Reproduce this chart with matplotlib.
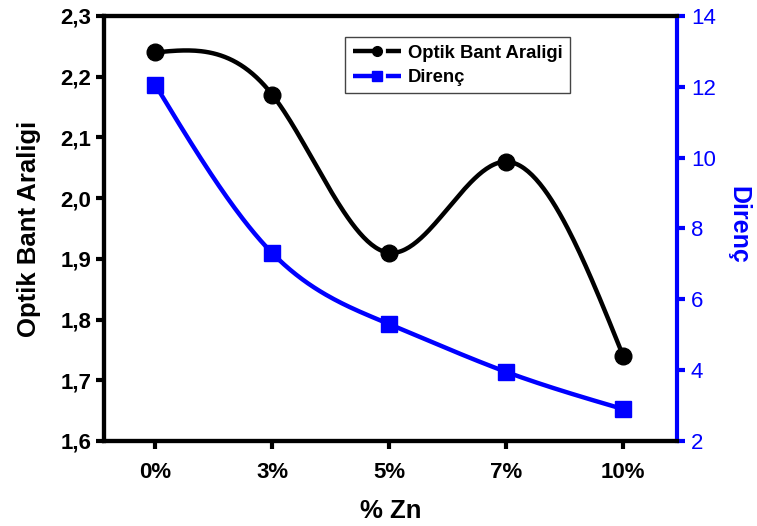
import matplotlib
matplotlib.use("Agg")
import matplotlib.pyplot as plt
import numpy as np

# ---------------- data ----------------
zn_labels = ['0%', '3%', '5%', '7%', '10%']
band_gap = [2.24, 2.17, 1.91, 2.06, 1.74]      # Optik Bant Araligi
direnc = [12.05, 7.30, 5.30, 3.95, 2.90]       # Direnç

plt.rcParams['font.family'] = ['Liberation Sans', 'DejaVu Sans']


def natural_spline(y, n=60):
    # natural cubic spline on x = 0..len-1, only for drawing the smooth line
    y = np.asarray(y, dtype=float)
    k = len(y)
    A = np.zeros((k, k))
    b = np.zeros(k)
    A[0, 0] = 1
    A[-1, -1] = 1
    for i in range(1, k - 1):
        A[i, i - 1] = 1
        A[i, i] = 4
        A[i, i + 1] = 1
        b[i] = 6 * (y[i + 1] - 2 * y[i] + y[i - 1])
    M = np.linalg.solve(A, b)
    xs, ys = [], []
    for i in range(k - 1):
        t = np.linspace(0, 1, n)
        seg = ((1 - t) * y[i] + t * y[i + 1]
               + ((1 - t) ** 3 - (1 - t)) * M[i] / 6
               + (t ** 3 - t) * M[i + 1] / 6)
        xs.extend(i + t)
        ys.extend(seg)
    return np.array(xs), np.array(ys)


x = np.arange(len(zn_labels))

fig = plt.figure(figsize=(7.57, 5.26), dpi=100)
ax1 = fig.add_axes([0.1374, 0.1616, 0.7569, 0.808])
ax2 = ax1.twinx()

sx, sy = natural_spline(band_gap)
ax1.plot(sx, sy, color='black', lw=3.2, zorder=2)
ax1.plot(x, band_gap, 'o', color='black', ms=12, zorder=3)
# legend handles: dash - marker - dash like the original
h1, = ax1.plot([], [], marker='o', color='black', lw=3.2, ms=7,
               ls=(0, (4.6, 2.8)), label='Optik Bant Araligi')

bx, by = natural_spline(direnc)
ax2.plot(bx, by, color='blue', lw=3.2, zorder=2)
ax2.plot(x, direnc, 's', color='blue', ms=11, zorder=3)
h2, = ax2.plot([], [], marker='s', color='blue', lw=3.2, ms=7,
               ls=(0, (4.6, 2.8)), label='Direnç')

ax1.set_xlim(-0.44, 4.46)
ax1.set_ylim(1.6, 2.3)
ax2.set_ylim(2, 14)

ax1.set_xticks(x)
ax1.set_xticklabels(zn_labels)
yt = np.arange(1.6, 2.31, 0.1)
ax1.set_yticks(yt)
ax1.set_yticklabels([('%.1f' % v).replace('.', ',') for v in yt])
ax2.set_yticks(np.arange(2, 15, 2))

ax1.tick_params(axis='both', direction='out', width=3, length=6,
                labelsize=16, pad=3)
for lab in ax1.get_xticklabels() + ax1.get_yticklabels():
    lab.set_fontweight('bold')
ax1.tick_params(axis='x', pad=9)
ax2.tick_params(axis='y', direction='out', width=3, length=6, colors='blue',
                labelsize=16, pad=4)

for s in ['left', 'bottom', 'top']:
    ax1.spines[s].set_linewidth(3)
ax2.spines['right'].set_linewidth(3)
ax2.spines['right'].set_color('blue')
for s in ['left', 'bottom', 'top']:
    ax2.spines[s].set_linewidth(3)

ax1.set_xlabel('% Zn', fontsize=18.5, fontweight='bold', labelpad=12)
ax1.set_ylabel('Optik Bant Araligi', fontsize=18.5, fontweight='bold', labelpad=14)
ax2.set_ylabel('Direnç', fontsize=18, fontweight='bold', color='blue',
               rotation=270, va='center', ha='center')
ax2.yaxis.set_label_coords(1.108, 0.508)

leg = ax1.legend(handles=[h1, h2], loc='upper left', bbox_to_anchor=(0.421, 0.95),
                 fancybox=False, framealpha=1, edgecolor='#444444',
                 prop={'weight': 'bold', 'size': 13.3}, handlelength=2.6,
                 handletextpad=0.4, borderpad=0.4, labelspacing=0.4,
                 borderaxespad=0)
leg.get_frame().set_linewidth(1)
leg.set_zorder(5)

fig.savefig('out.png', dpi=100)
